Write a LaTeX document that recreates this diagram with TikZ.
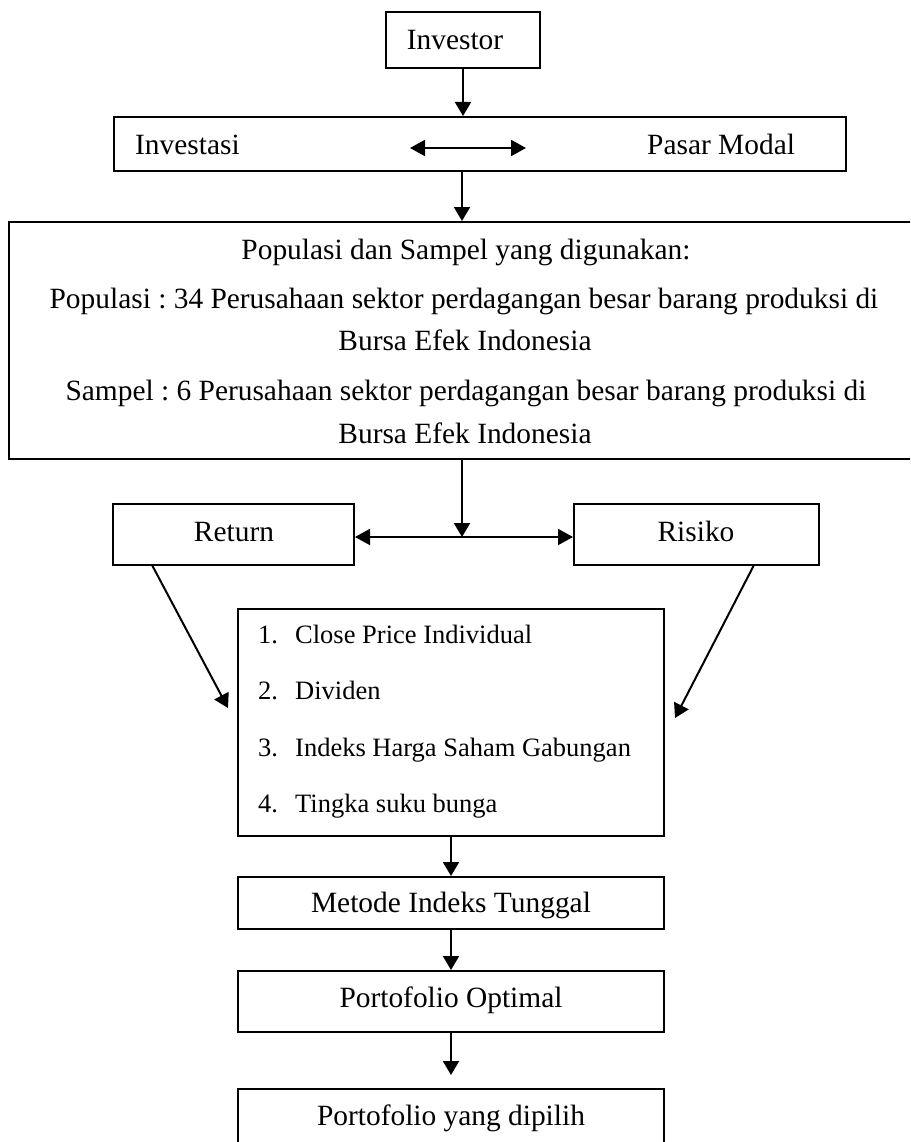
\documentclass[tikz,border=0pt]{standalone}
\usepackage{fontspec}
\setmainfont{Liberation Serif}
\usetikzlibrary{arrows.meta}
\frenchspacing
\tikzset{
  box/.style={draw, line width=2pt, inner sep=0pt, minimum width=#1},
  txt/.style={anchor=base, inner sep=0pt, font=\fontsize{29.4}{35}\selectfont},
  ltxt/.style={anchor=base west, inner sep=0pt, font=\fontsize{26.5}{32}\selectfont},
  arr/.style={line width=2pt, -{Triangle[length=14pt,width=16pt]}},
  arrb/.style={line width=2pt, {Triangle[length=15pt,width=16pt]}-{Triangle[length=15pt,width=16pt]}}
}
\begin{document}
\begin{tikzpicture}[x=1pt,y=-1pt]
\useasboundingbox (0,0) rectangle (910,1142);
\clip (0,0) rectangle (910,1142);
\fill[white] (0,0) rectangle (910,1142);
% boxes
\node[box=154pt, minimum height=56pt] (inv) at (463,40) {};
\node[box=732pt, minimum height=54pt] (ipm) at (480,144) {};
\node[box=912pt, minimum height=237pt] (pop) at (465,340.5) {};
\node[box=241pt, minimum height=61pt] (ret) at (233.5,534.5) {};
\node[box=245pt, minimum height=61pt] (ris) at (696.5,534.5) {};
\node[box=426pt, minimum height=227pt] (lst) at (451,722.5) {};
\node[box=426pt, minimum height=52pt] (met) at (451,903) {};
\node[box=426pt, minimum height=61pt] (po) at (451,1001.5) {};
\node[box=426pt, minimum height=71pt] (pyd) at (451,1124.5) {};
% texts
\node[txt] (tinv) at (455,50) {Investor};
\node[txt, anchor=base west] (tinvs) at (135,155) {Investasi};
\node[txt, anchor=base west] (tpm) at (647,155) {Pasar Modal};
\node[txt] (tp0) at (466,259) {Populasi dan Sampel yang digunakan:};
\node[txt] (tp1) at (464,308) {Populasi : 34 Perusahaan sektor perdagangan besar barang produksi di};
\node[txt] (tp2) at (465,350) {Bursa Efek Indonesia};
\node[txt] (tp3) at (466,400) {Sampel : 6 Perusahaan sektor perdagangan besar barang produksi di};
\node[txt] (tp4) at (465,443) {Bursa Efek Indonesia};
\node[txt] (tret) at (234,541) {Return};
\node[txt] (tris) at (696,541) {Risiko};
\node[ltxt] (n1) at (258,643) {1.};
\node[ltxt] (l1) at (295,643) {Close Price Individual};
\node[ltxt] (n2) at (258,699) {2.};
\node[ltxt] (l2) at (295,699) {Dividen};
\node[ltxt] (n3) at (258,756) {3.};
\node[ltxt] (l3) at (295,756) {Indeks Harga Saham Gabungan};
\node[ltxt] (n4) at (258,812) {4.};
\node[ltxt] (l4) at (295,812) {Tingka suku bunga};
\node[txt] (tmet) at (451,912) {Metode Indeks Tunggal};
\node[txt] (tpo) at (451,1007) {Portofolio Optimal};
\node[txt] (tpyd) at (451,1125) {Portofolio yang dipilih};
% coordinates
\coordinate (ia) at (410,148);
\coordinate (ib) at (526,148);
\coordinate (j) at (462,537);
\coordinate (rfoot) at (152,565);
\coordinate (rtip) at (228,708);
\coordinate (sfoot) at (754,565);
\coordinate (stip) at (675,718);
\coordinate (ptip) at (451,1075);
% connectors
\draw[arr] (inv.south) -- (inv.south |- ipm.north);
\draw[arrb] (ia) -- (ib);
\draw[arr] (j |- ipm.south) -- (j |- pop.north);
\draw[arr] (j |- pop.south) -- (j);
\draw[arrb] (j -| ret.east) -- (j -| ris.west);
\draw[arr] (rfoot) -- (rtip);
\draw[arr] (sfoot) -- (stip);
\draw[arr] (lst.south) -- (met.north);
\draw[arr] (met.south) -- (po.north);
\draw[arr] (po.south) -- (ptip);
\end{tikzpicture}
\end{document}
